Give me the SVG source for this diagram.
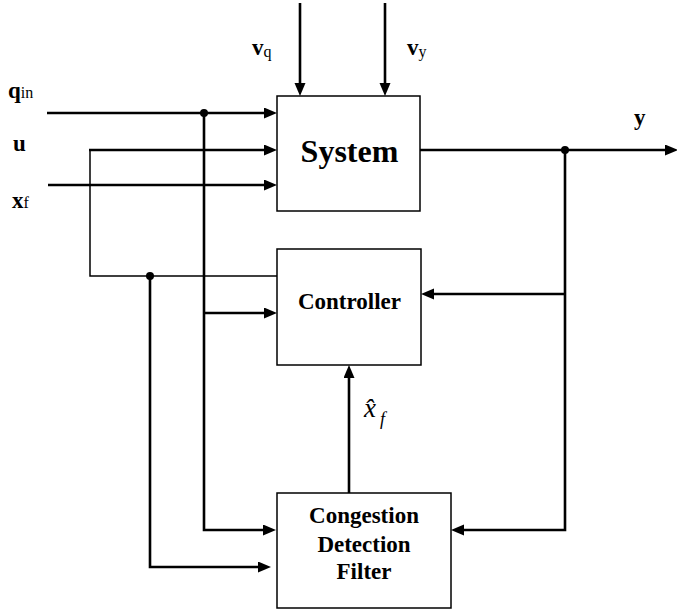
<svg xmlns="http://www.w3.org/2000/svg" width="677" height="610" viewBox="0 0 677 610">
<defs>
<style>
.box{fill:#fff;stroke:#000;stroke-width:1.5}
.thick{fill:none;stroke:#000;stroke-width:2.6}
.thin{fill:none;stroke:#000;stroke-width:1.5}
.arr{marker-end:url(#ah)}
.title{font-family:"Liberation Serif","Times New Roman",serif;font-weight:bold;text-anchor:middle;fill:#000}
.lbl{font-family:"Liberation Serif","Times New Roman",serif;font-weight:bold;font-size:23px;fill:#000}
.sub{font-weight:normal;font-size:16px}
.it{font-family:"Liberation Serif","Times New Roman",serif;font-style:italic;fill:#000}
.dot{fill:#000}
</style>
<marker id="ah" markerUnits="userSpaceOnUse" markerWidth="14" markerHeight="12" refX="2" refY="5.5" orient="auto">
<path d="M0,0 L13,5.5 L0,11 z" fill="#000"/>
</marker>
</defs>
<rect width="677" height="610" fill="#fff"/>
<g id="connectors">
<path class="thick arr" d="M47,113 H266"/>
<path class="thin" d="M277,276 H90 V150"/>
<path class="thick arr" d="M89,150 H266"/>
<path class="thick arr" d="M48,185 H266"/>
<path class="thick arr" d="M300,3 V85"/>
<path class="thick arr" d="M385,3 V85"/>
<path class="thick arr" d="M204,113 V530 H265"/>
<path class="thick arr" d="M204,313 H266"/>
<path class="thick arr" d="M150,276 V567 H260"/>
<path class="thick arr" d="M420,150 H667"/>
<path class="thick arr" d="M565,150 V530 H462"/>
<path class="thick arr" d="M565,294 H432"/>
<path class="thick arr" d="M349,493 V376"/>
<circle class="dot" cx="204" cy="113" r="4"/>
<circle class="dot" cx="150" cy="276" r="4"/>
<circle class="dot" cx="565" cy="150" r="4"/>
</g>
<g id="system">
<rect class="box" x="277" y="96" width="143" height="115"/>
<text class="title" x="349.5" y="162" font-size="32">System</text>
</g>
<g id="controller">
<rect class="box" x="277" y="249" width="144" height="116"/>
<text class="title" x="349.5" y="309" font-size="23">Controller</text>
</g>
<g id="cdf">
<rect class="box" x="277" y="493" width="174" height="115"/>
<text class="title" x="364" y="523" font-size="23">Congestion</text>
<text class="title" x="364" y="552" font-size="23">Detection</text>
<text class="title" x="364" y="579" font-size="23">Filter</text>
</g>
<g id="labels">
<text class="lbl" x="8" y="98">q<tspan class="sub">in</tspan></text>
<text class="lbl" x="13" y="151">u</text>
<text class="lbl" x="12" y="208">x<tspan class="sub">f</tspan></text>
<text class="lbl" x="252" y="55">v<tspan class="sub" dy="2">q</tspan></text>
<text class="lbl" x="407" y="55">v<tspan class="sub" dy="2">y</tspan></text>
<text class="lbl" x="634" y="125">y</text>
<text class="it" x="364" y="417" font-size="27">x̂<tspan font-size="18" dx="4" dy="8">f</tspan></text>
</g>
</svg>
